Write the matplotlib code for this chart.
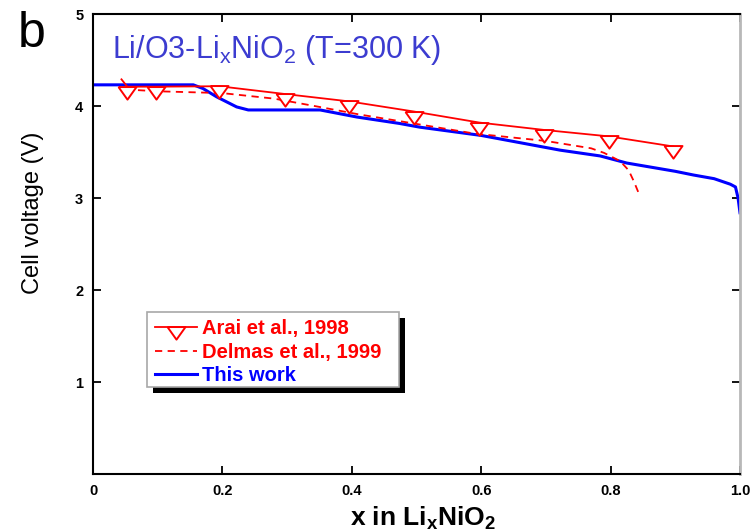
import numpy as np
import matplotlib.pyplot as plt
from matplotlib.patches import Rectangle

plt.rcParams['font.family'] = ['Liberation Sans', 'DejaVu Sans']

# Arai et al. 1998 (open triangles)
arai_x = [0.044, 0.053, 0.097, 0.195, 0.297, 0.396, 0.496, 0.597, 0.697, 0.797, 0.897]
arai_v = [4.29, 4.21, 4.21, 4.215, 4.13, 4.05, 3.94, 3.82, 3.74, 3.67, 3.56]

# Delmas et al. 1999 (dashed)
delmas_x = [0.05, 0.10, 0.20, 0.28, 0.35, 0.41, 0.47, 0.59, 0.70, 0.77, 0.79, 0.815, 0.828, 0.836, 0.843]
delmas_v = [4.18, 4.16, 4.14, 4.08, 3.99, 3.91, 3.84, 3.70, 3.62, 3.54, 3.49, 3.40, 3.30, 3.18, 3.06]

# calculated profile
calc_x = [0.0, 0.155, 0.170, 0.191, 0.222, 0.240, 0.351, 0.408, 0.474, 0.505, 0.60, 0.722,
          0.784, 0.825, 0.90, 0.928, 0.96, 0.985, 0.993, 0.997, 1.0]
calc_v = [4.23, 4.23, 4.19, 4.10, 3.99, 3.957, 3.957, 3.88, 3.81, 3.77, 3.68, 3.52,
          3.457, 3.38, 3.29, 3.25, 3.21, 3.15, 3.12, 3.0, 2.84]

xticks = [0, 0.2, 0.4, 0.6, 0.8, 1.0]
xtick_labels = ['0', '0.2', '0.4', '0.6', '0.8', '1.0']
yticks = [1, 2, 3, 4, 5]

# down triangle hanging under the data point
tri = [(-1, 0.05), (1, 0.05), (0, -1.35), (-1, 0.05)]

fig = plt.figure(figsize=(7.56, 5.32), dpi=100)
ax = fig.add_axes([93/756, 58/532, 647/756, 460/532])

ax.plot(calc_x, calc_v, color='#0000ff', lw=2.2, label='This work', zorder=2)
ax.plot(delmas_x, delmas_v, color='#ff0000', lw=1.3, ls=(0, (4, 3)),
        label='Delmas et al., 1999', zorder=3)
ax.plot(arai_x, arai_v, color='#ff0000', lw=1.3, marker=tri, ms=17.5,
        mfc='white', mec='#ff0000', mew=1.4, markevery=list(range(1, len(arai_x))),
        label='Arai et al., 1998', zorder=4)

ax.set_xlim(0, 1.0)
ax.set_ylim(0, 5)
ax.set_xticks(xticks)
ax.set_xticklabels(xtick_labels)
ax.set_yticks(yticks)
ax.tick_params(direction='in', length=6, width=1.3, top=True, right=True, pad=7,
               labelsize=10.5)
for lab in ax.get_xticklabels() + ax.get_yticklabels():
    lab.set_fontweight('bold')
for side in ['left', 'bottom', 'top']:
    ax.spines[side].set_linewidth(1.5)
    ax.spines[side].set_color('black')
ax.spines['right'].set_linewidth(2)
ax.spines['right'].set_color('#b8b8b8')

# legend box with solid shadow
ax.add_patch(Rectangle((0.0932, 0.1755), 0.3895, 0.1643, transform=ax.transAxes,
                       facecolor='black', edgecolor='none', zorder=5))
ax.add_patch(Rectangle((0.0839, 0.1885), 0.3895, 0.1643, transform=ax.transAxes,
                       facecolor='white', edgecolor='#a8a8a8', lw=1.2, zorder=6))
h, l = ax.get_legend_handles_labels()
order = [2, 1, 0]
leg = ax.legend([h[i] for i in order], [l[i] for i in order], loc='upper left',
                bbox_to_anchor=(0.0958, 0.336), frameon=False,
                prop={'size': 14.5, 'weight': 'bold'},
                handlelength=2.07, handletextpad=0.25, labelspacing=0.21,
                borderpad=0, borderaxespad=0, numpoints=1, labelcolor='linecolor')
leg.set_zorder(7)

fig.text(111.7/756, 1 - 58.3/532, r'Li/O3-Li$_\mathregular{x}$NiO$_\mathregular{2}$ (T=300 K)',
         fontsize=22, color='#3c3cd0', va='baseline')
fig.text(18/756, 1 - 46.7/532, 'b', fontsize=36, va='baseline')
fig.text(33/756, 1 - 212.5/532, 'Cell voltage (V)', fontsize=17, rotation=90,
         ha='center', va='center')
fig.text(423/756, 1 - 526/532, r'x in Li$_\mathregular{x}$NiO$_\mathregular{2}$',
         fontsize=19, fontweight='bold', ha='center', va='baseline')

fig.savefig('out.png', dpi=100)
